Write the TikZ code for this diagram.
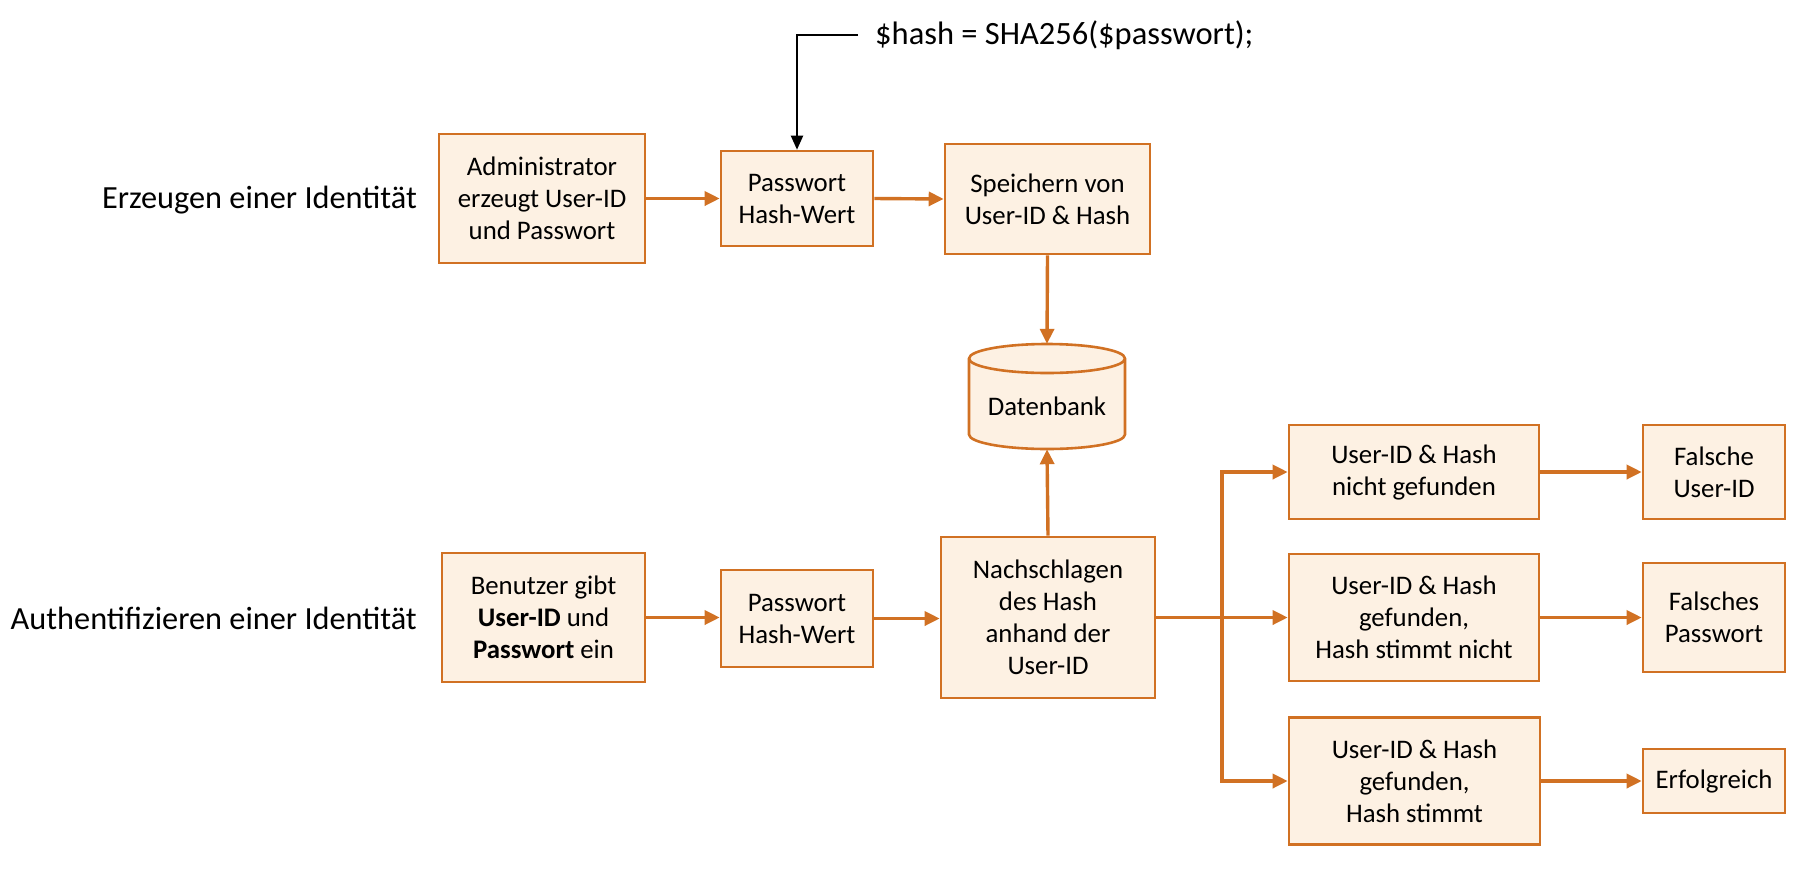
\documentclass[tikz,border=0pt]{standalone}
\usepackage{fontspec}
\setmainfont{Carlito}
\usetikzlibrary{arrows.meta,positioning}
\definecolor{obord}{RGB}{209,113,35}
\definecolor{ofill}{RGB}{253,241,227}
\begin{document}
\begin{tikzpicture}[x=1pt,y=-1pt,
  box/.style={draw=obord, fill=ofill, line width=2.6pt, align=center,
    font=\fontsize{26.8}{32}\selectfont, inner sep=0pt},
  lbl/.style={font=\fontsize{32.3}{38}\selectfont, inner sep=0pt},
  conn/.style={draw=obord, line width=3.4pt, -{Triangle[length=15pt,width=14pt]}},
  plain/.style={draw=obord, line width=3.4pt}]
\useasboundingbox (0,0) rectangle (1818,868);

% top row
\node[box, minimum width=206pt, minimum height=129pt] (admin) at (542,198.5) {Administrator\\erzeugt User-ID\\und Passwort};
\node[box, minimum width=152pt, minimum height=95pt] (pw1) at (797,198.5) {Passwort\\Hash-Wert};
\node[box, minimum width=205pt, minimum height=110pt] (spe) at (1047.5,199) {Speichern von\\User-ID \& Hash};
\node[lbl, anchor=east] (l1) at (417,200) {Erzeugen einer Identität};

\node[font=\fontsize{32.5}{38}\selectfont, anchor=west, inner xsep=17pt, inner ysep=2pt] (hash) at (858,35) {\$hash = SHA256(\$passwort);};
\draw[line width=2pt, black, -{Triangle[length=14pt,width=12pt]}] (hash.west) -| (pw1.north);

% database
\node[minimum width=156pt, minimum height=105pt, inner sep=0pt] (db) at (1047,396.5) {};
\draw[draw=obord, fill=ofill, line width=2.6pt]
  (969,358.5) -- (969,434.5) arc[start angle=180, end angle=0, x radius=78, y radius=14.5]
  -- (1125,358.5) arc[start angle=0, end angle=-180, x radius=78, y radius=14.5] -- cycle;
\draw[draw=obord, line width=2.6pt] (969,358.5) arc[start angle=180, end angle=0, x radius=78, y radius=14.5];
\node[font=\fontsize{26.8}{32}\selectfont, inner sep=0pt] (dbt) at (1047,406) {Datenbank};

% bottom row
\node[box, minimum width=203pt, minimum height=129pt] (bn) at (543.5,617.5) {Benutzer gibt\\\textbf{User-ID} und\\\textbf{Passwort} ein};
\node[box, minimum width=152pt, minimum height=97pt] (pw2) at (797,618.5) {Passwort\\Hash-Wert};
\node[box, minimum width=214pt, minimum height=161pt] (na) at (1048,617.5) {Nachschlagen\\des Hash\\anhand der\\User-ID};
\node[lbl, anchor=east] (l2) at (417,618) {Authentifizieren einer Identität};

% right column
\node[box, minimum width=250pt, minimum height=94pt] (r1) at (1414,472) {User-ID \& Hash\\nicht gefunden};
\node[box, minimum width=250pt, minimum height=127pt] (r2) at (1414,617.5) {User-ID \& Hash\\gefunden,\\Hash stimmt nicht};
\node[box, minimum width=251pt, minimum height=127pt] (r3) at (1414.5,781) {User-ID \& Hash\\gefunden,\\Hash stimmt};
\node[box, minimum width=142pt, minimum height=94pt] (f1) at (1714,472) {Falsche\\User-ID};
\node[box, minimum width=142pt, minimum height=109pt] (f2) at (1714,617.5) {Falsches\\Passwort};
\node[box, minimum width=142pt, minimum height=64pt] (f3) at (1714,781) {Erfolgreich};

\coordinate (br) at (1222,617.5);
\coordinate (bt) at (1222,472);
\coordinate (bb) at (1222,781);

% connectors
\draw[conn] (admin.east) -- (pw1.west);
\draw[conn] (pw1.east) -- (spe.west);
\draw[conn] (spe.south) -- (db.north);
\draw[conn] (na.north) -- (db.south);
\draw[conn] (bn.east) -- (pw2.west |- bn.east);
\draw[conn] (pw2.east) -- (na.west |- pw2.east);
\draw[plain] (na.east) -- (br);
\draw[plain] (bt) -- (bb);
\draw[conn] ([xshift=-1.7pt]bt) -- (r1.west);
\draw[conn] (br) -- (r2.west);
\draw[conn] ([xshift=-1.7pt]bb) -- (r3.west);
\draw[conn] (r1.east) -- (f1.west);
\draw[conn] (r2.east) -- (f2.west);
\draw[conn] (r3.east) -- (f3.west);
\end{tikzpicture}
\end{document}
